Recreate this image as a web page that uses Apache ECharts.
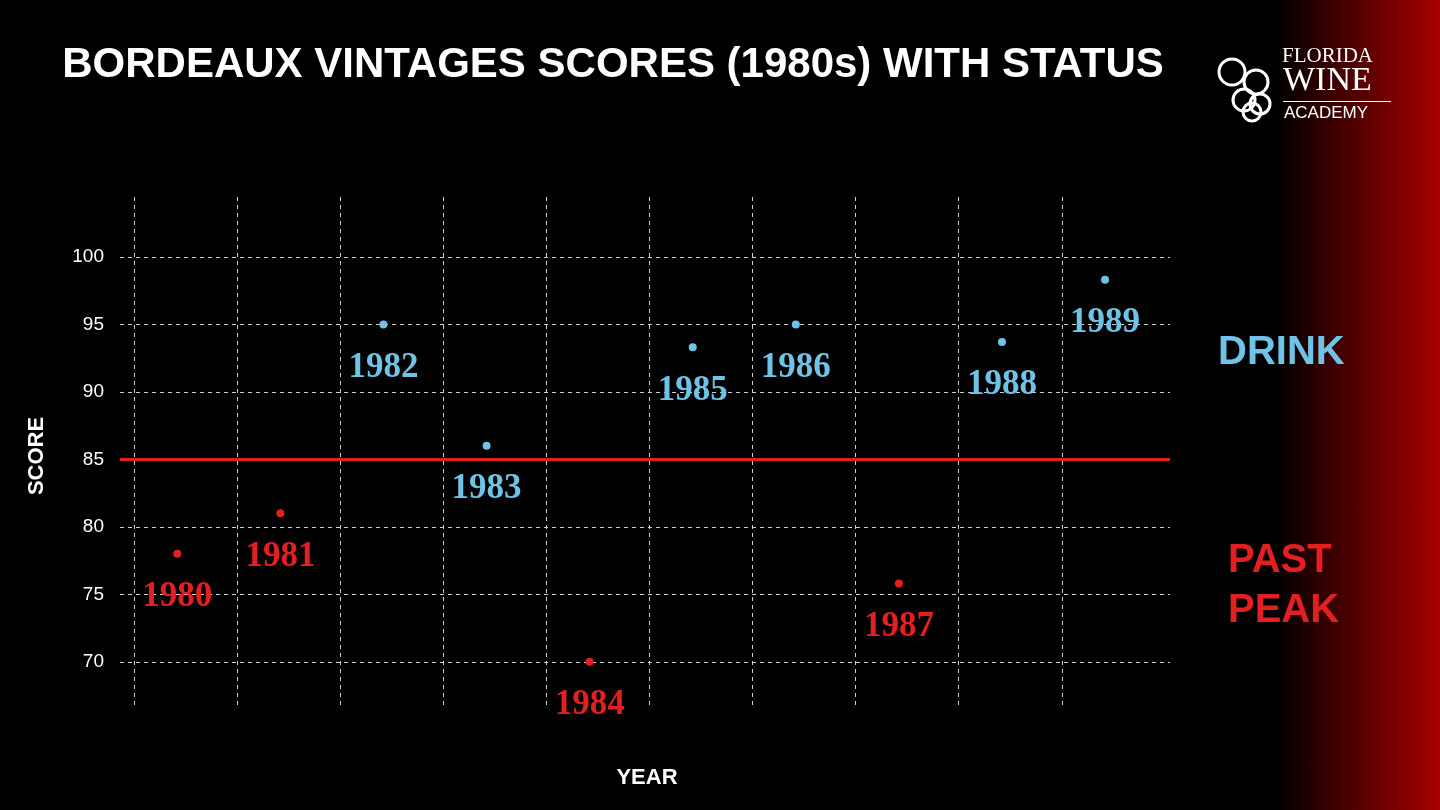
<!DOCTYPE html>
<html><head><meta charset="utf-8">
<script src="https://cdn.jsdelivr.net/npm/echarts@6/dist/echarts.min.js"></script>
<style>html,body{margin:0;padding:0;background:#000}#c{width:1440px;height:810px;background:linear-gradient(to right,#000 0,#000 1275px,#a80000 1440px)}</style>
</head><body><div id="c"></div>
<script>
const years = [1980,1981,1982,1983,1984,1985,1986,1987,1988,1989];
const scores = [78,81,95,86,70,93.3,95,75.8,93.7,98.3];
const status = ['past','past','drink','drink','past','drink','drink','past','drink','drink'];
const yTicks = [70,75,80,85,90,95,100];
const threshold = 85;
const BLUE='#6ec3e6', RED='#e3201f';
const chart = echarts.init(document.getElementById('c'));
const gridStyle = {color:'#d0d0d0',type:[4,4],width:1};
const vLines = years.map(y=>({xAxis:y-0.42,lineStyle:gridStyle}));
const hLines = yTicks.filter(v=>v!==threshold).map(v=>({yAxis:v,lineStyle:gridStyle}));
const thr = {yAxis:threshold,lineStyle:{color:RED,type:'solid',width:3}};
chart.setOption({
  backgroundColor:'transparent',
  animation:false,
  title:{text:'BORDEAUX VINTAGES SCORES (1980s) WITH STATUS',left:608,top:39,textAlign:'center',
    textStyle:{color:'#fff',fontFamily:'Liberation Sans, Arial',fontWeight:'bold',fontSize:42}},
  grid:{left:120,right:270,top:197,bottom:105},
  xAxis:{type:'value',min:1979.444,max:1989.63,axisLine:{show:false},axisTick:{show:false},axisLabel:{show:false},splitLine:{show:false},
    name:'YEAR',nameLocation:'middle',nameGap:62,nameTextStyle:{color:'#fff',fontFamily:'Liberation Sans, Arial',fontWeight:'bold',fontSize:22,padding:[0,0,0,4]}},
  yAxis:{type:'value',min:66.8,max:104.44,axisLine:{show:false},axisTick:{show:false},splitLine:{show:false},
    axisLabel:{customValues:yTicks,color:'#fff',fontFamily:'Liberation Sans, Arial',fontSize:19,margin:16},
    name:'SCORE',nameLocation:'middle',nameGap:72,nameRotate:90,nameTextStyle:{color:'#fff',fontFamily:'Liberation Sans, Arial',fontWeight:'bold',fontSize:22,padding:[0,0,0,-10]}},
  series:[
    {type:'scatter',symbolSize:8,
      data:years.map((y,i)=>({value:[y,scores[i]],itemStyle:{color:status[i]==='drink'?BLUE:RED,opacity:1},
        label:{color:status[i]==='drink'?BLUE:RED}})),
      label:{show:true,position:'bottom',distance:22,formatter:p=>String(p.value[0]),
        fontFamily:'Liberation Serif, serif',fontWeight:'bold',fontSize:35},
      markLine:{silent:true,symbol:'none',label:{show:false},
        data:vLines.concat(hLines).concat([thr])},
      z:5}
  ],
  graphic:[
    {type:'text',left:1218,top:333,style:{text:'DRINK',fill:BLUE,font:'bold 40px Liberation Sans, Arial'}},
    {type:'text',left:1228,top:536,style:{text:'PAST\nPEAK',fill:RED,font:'bold 40px Liberation Sans, Arial',align:'center',lineHeight:50},x:56},
    {type:'text',left:1282,top:46,style:{text:'FLORIDA',fill:'#fff',font:'21px Liberation Serif, serif'}},
    {type:'text',left:1283,top:64,style:{text:'WINE',fill:'#fff',font:'34px Liberation Serif, serif'}},
    {type:'rect',shape:{x:1283,y:101,width:108,height:1},style:{fill:'#fff'}},
    {type:'text',left:1284,top:105,style:{text:'ACADEMY',fill:'#fff',font:'17px Liberation Sans, Arial'}},
    {type:'circle',shape:{cx:1232,cy:72,r:13},style:{fill:'none',stroke:'#fff',lineWidth:3}},
    {type:'circle',shape:{cx:1256,cy:82,r:12},style:{fill:'none',stroke:'#fff',lineWidth:3}},
    {type:'circle',shape:{cx:1244,cy:100,r:11},style:{fill:'none',stroke:'#fff',lineWidth:3}},
    {type:'circle',shape:{cx:1260,cy:104,r:10},style:{fill:'none',stroke:'#fff',lineWidth:3}},
    {type:'circle',shape:{cx:1252,cy:112,r:9},style:{fill:'none',stroke:'#fff',lineWidth:3}}
  ]
});
</script></body></html>
